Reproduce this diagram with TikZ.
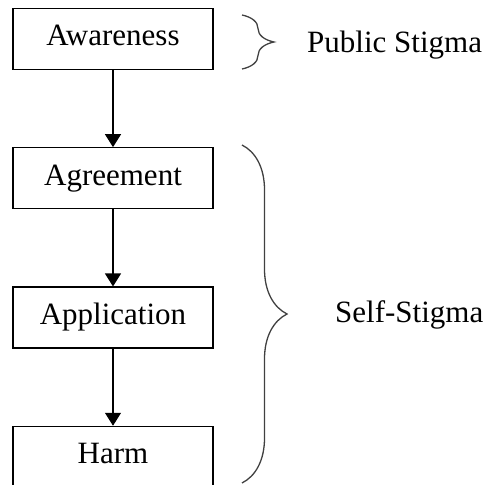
\documentclass[tikz,border=0pt]{standalone}
\usepackage{fontspec}
\setmainfont{Liberation Serif}
\usetikzlibrary{
    arrows.meta,
    positioning,
    decorations.pathreplacing
}
\tikzset{
    % Boxes
    stage box/.style={draw,line width=1.3pt,minimum width=200pt,minimum height=61pt,inner sep=0pt,text height=21pt,text depth=7.5pt},
    %
    % Arrows
    arrow tip/.tip={Triangle[width=16pt,length=13pt]},
    arr/.style={-{arrow tip},line width=1.1pt},
    %
    % Braces
    stigma brace/.style={decorate,decoration={brace,amplitude=#1,aspect=.5},line width=1.3pt,color=black!75},
    stigma label/.style={anchor=base west,inner sep=0pt},
}
\tikzstyle{every node}=[font=\fontsize{31}{36}\selectfont]

\begin{document}
\begin{tikzpicture}[x=1pt,y=-1pt]
        \useasboundingbox (0,0) rectangle (492,484);
        % stages
        \node[stage box] (awareness) at (113,39) {Awareness};
        \node[stage box,below=77pt of awareness] (agreement) {Agreement};
        \node[stage box,below=77pt of agreement] (application) {Application};
        \node[stage box,below=77pt of application] (harm) {Harm};
        \draw[arr] (awareness) -- (agreement);
        \draw[arr] (agreement) -- (application);
        \draw[arr] (application) -- (harm);
        % braces
        \coordinate (public top) at (242,15);
        \coordinate (public bottom) at (242,69);
        \draw[stigma brace=32pt] (public top) -- (public bottom);
        \node[stigma label] (public) at (307,53) {Public Stigma};
        \coordinate (self top) at (242,145);
        \coordinate (self bottom) at (242,483);
        \draw[stigma brace=45pt] (self top) -- (self bottom);
        \node[stigma label] (self) at (335,322) {Self-Stigma};
\end{tikzpicture}
\end{document}
